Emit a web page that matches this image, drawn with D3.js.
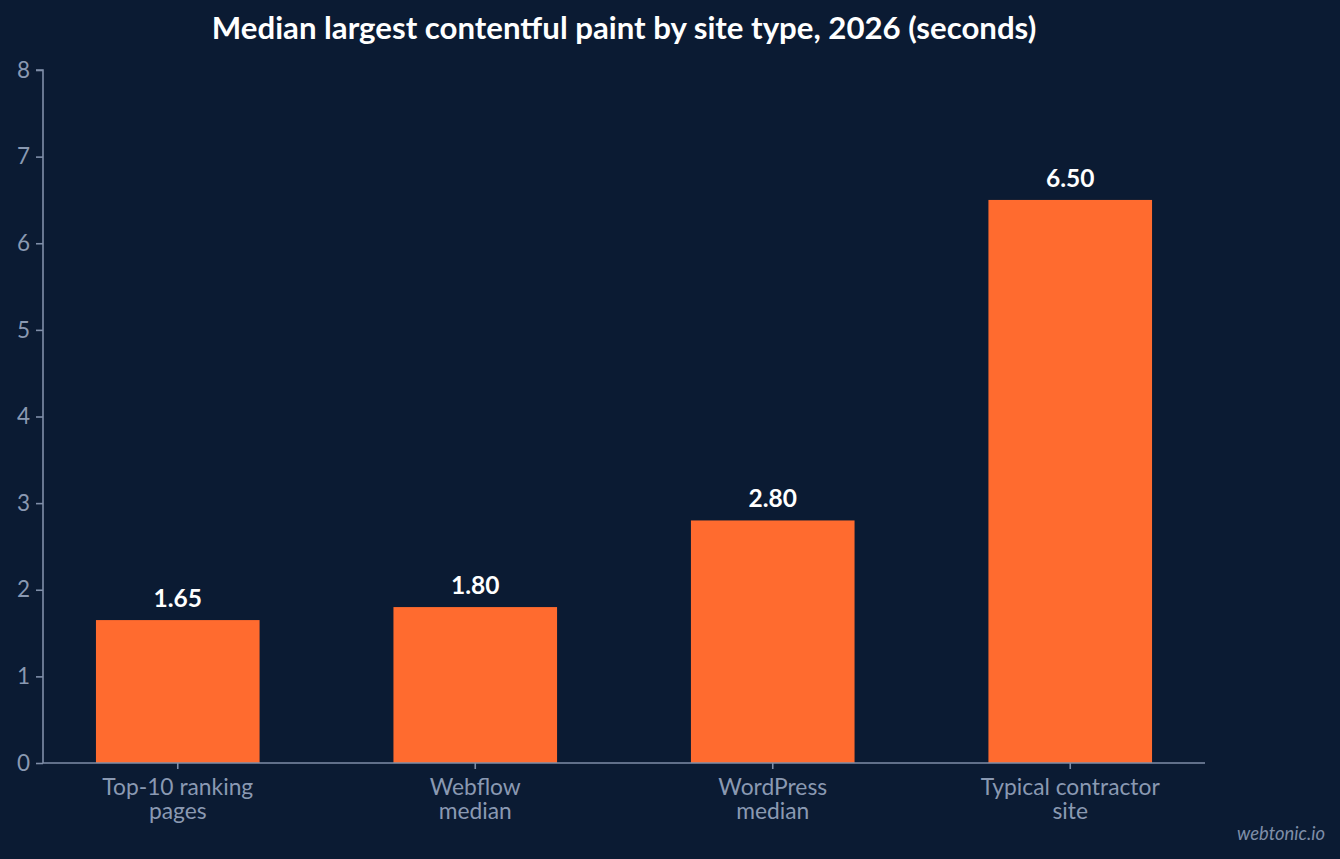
<!DOCTYPE html>
<html><head><meta charset="utf-8">
<script src="https://cdn.jsdelivr.net/npm/d3@7"></script>
<style>
html,body{margin:0;padding:0;background:#0b1b33;}
svg{display:block;font-family:Lato,"Noto Sans",sans-serif;}
</style></head>
<body>
<svg id="chart" width="1340" height="859"></svg>
<script>
const categories = [["Top-10 ranking","pages"],["Webflow","median"],["WordPress","median"],["Typical contractor","site"]];
const values = [1.65, 1.80, 2.80, 6.50];
const yTicks = [0,1,2,3,4,5,6,7,8];
const title = "Median largest contentful paint by site type, 2026 (seconds)";

const svg = d3.select("#chart");
const W = 1340, H = 859;
svg.append("rect").attr("width",W).attr("height",H).attr("fill","#0b1b33");

const x0 = 43, x1 = 1205, yTop = 70, yBot = 763;
const keys = categories.map((c,i)=>i);
const x = d3.scaleBand().domain(keys).range([x0,x1]).paddingInner(0.45).paddingOuter(0.178);
const y = d3.scaleLinear().domain([0,8]).range([yBot,yTop]);

const axisColor = "#7f8ea8", tickText = "#8a99b2";

// bars
svg.selectAll("rect.bar").data(values).enter().append("rect")
  .attr("class","bar")
  .attr("x",(d,i)=>x(i)).attr("width",x.bandwidth())
  .attr("y",d=>y(d)).attr("height",d=>yBot-y(d))
  .attr("fill","#ff6b2f");

// value labels
svg.selectAll("text.val").data(values).enter().append("text")
  .attr("x",(d,i)=>x(i)+x.bandwidth()/2).attr("y",d=>y(d)-13)
  .attr("text-anchor","middle").attr("fill","#ffffff")
  .attr("font-size",24.5).attr("font-weight",700)
  .text(d=>d.toFixed(2));

// y axis
const ya = svg.append("g").attr("transform",`translate(${x0},0)`)
  .call(d3.axisLeft(y).tickValues(yTicks).tickFormat(d3.format("d")).tickSize(7).tickPadding(6));
ya.select(".domain").attr("stroke",axisColor).attr("stroke-width",1.6).attr("d",`M-7,${yTop}H0V${yBot}`);
ya.selectAll(".tick line").attr("stroke",axisColor).attr("stroke-width",1.6);
ya.selectAll(".tick text").attr("fill",tickText).attr("font-size",22.5).attr("font-family","Lato,sans-serif");

// x axis
const xa = svg.append("g").attr("transform",`translate(0,${yBot})`)
  .call(d3.axisBottom(x).tickSize(6).tickFormat(""));
xa.select(".domain").attr("stroke",axisColor).attr("stroke-width",1.6).attr("d",`M${x0},0H${x1}`);
xa.selectAll(".tick line").attr("stroke",axisColor).attr("stroke-width",1.6);
xa.selectAll(".tick").each(function(d){
  const t = d3.select(this).append("text").attr("fill",tickText).attr("font-size",22.8)
    .attr("text-anchor","middle").attr("font-family","Lato,sans-serif");
  categories[d].forEach((line,j)=>{
    t.append("tspan").attr("x",0).attr("y",32+j*24).text(line);
  });
});

// title
svg.append("text").attr("x",(x0+x1)/2).attr("y",39).attr("text-anchor","middle")
  .attr("fill","#ffffff").attr("font-size",31.2).attr("font-weight",700).text(title);

// watermark
svg.append("text").attr("x",1325).attr("y",840).attr("text-anchor","end")
  .attr("fill","#7f8ea8").attr("font-size",18.4).attr("font-style","italic").text("webtonic.io");
</script>
</body></html>
